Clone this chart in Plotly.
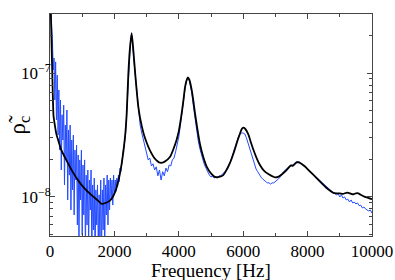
import plotly.graph_objects as go

# ---- data (values in units of 1e-8) ----
black_freq = [0, 30, 60, 85, 110, 150, 200, 250, 350, 500, 700, 900, 1100, 1300, 1500, 1600,
              1700, 1850, 1950, 2050, 2150, 2230, 2330, 2380, 2430, 2480, 2536, 2590, 2640,
              2690, 2740, 2800, 2900, 3000, 3100, 3250, 3420, 3550, 3730, 3850, 3930, 4000,
              4090, 4150, 4190, 4240, 4280, 4330, 4400, 4450, 4500, 4580, 4660, 4760, 4870,
              5000, 5120, 5250, 5380, 5500, 5590, 5700, 5800, 5900, 5960, 6000, 6060, 6160,
              6240, 6320, 6420, 6520, 6650, 6780, 6990, 7100, 7195, 7300, 7400, 7480, 7540,
              7600, 7660, 7720, 7780, 7870, 7970, 8100, 8280, 8450, 8590, 8700, 8800, 8900,
              9000, 9100, 9200, 9265, 9350, 9420, 9500, 9575, 9650, 9780, 9900, 10000]
black_val = [80, 28, 13, 7, 4.5, 3.8, 3.2, 2.9, 2.4, 2.0, 1.6, 1.33, 1.15, 1.03, 0.93, 0.88,
             0.89, 0.93, 1.0, 1.15, 1.45, 1.88, 3.05, 4.6, 9.5, 15.5, 21, 15, 10.3,
             7.3, 5.4, 4.3, 3.3, 2.75, 2.39, 2.05, 1.89, 1.92, 2.11, 2.5, 2.88, 3.4,
             4.75, 6.2, 7.6, 8.7, 9.2, 8.8, 7.3, 6.0, 4.8, 3.5, 2.65, 2.1, 1.75,
             1.55, 1.45, 1.45, 1.5, 1.68, 1.88, 2.25, 2.72, 3.25, 3.55, 3.62, 3.55, 3.2,
             2.75, 2.39, 2.05, 1.81, 1.62, 1.53, 1.44, 1.46, 1.52, 1.6, 1.71, 1.8, 1.78,
             1.84, 1.9, 1.9, 1.87, 1.8, 1.71, 1.58, 1.42, 1.28, 1.18, 1.12, 1.08, 1.07,
             1.07, 1.06, 1.08, 1.08, 1.06, 1.05, 1.07, 1.07, 1.04, 1.0, 0.98, 0.96]

blue_freq = (list(range(0, 2325, 25)) +
             [2350, 2400, 2450, 2500, 2530, 2560, 2600, 2650, 2700, 2750] +
             list(range(2800, 4050, 50)) +
             [4050, 4100, 4150, 4200, 4250, 4280, 4320, 4360, 4400, 4450] +
             list(range(4500, 8050, 50)) +
             list(range(8100, 8900, 100)) +
             list(range(8900, 10050, 50)))
blue_val = [35, 31, 24.4, 18.5, 10.6, 13.2, 6.05, 12.3, 4.18, 9.6, 3.16, 7.3, 2.39, 6.05, 1.65,
            4.6, 2.88, 5.5, 1.25, 3.8, 1.99, 5.03, 0.946, 3.47, 1.5, 3.8, 0.785, 2.88, 1.14,
            3.16, 0.716, 2.39, 1.37, 2.62, 0.594, 2.18, 0.45, 1.99, 0.946, 2.39, 0.494, 1.81,
            0.716, 1.99, 0.374, 1.5, 0.594, 1.65, 0.41, 1.37, 0.785, 1.65, 0.34, 1.25, 0.542,
            1.42, 0.31, 1.14, 0.594, 1.25, 0.374, 1.04, 0.45, 1.37, 0.34, 1.14, 0.542, 1.42,
            0.41, 1.25, 0.716, 1.5, 0.594, 1.37, 0.785, 1.42, 0.946, 1.37, 0.86, 1.5, 1.04,
            1.37, 1.11, 1.42, 1.22, 1.5, 1.33, 1.71, 1.6, 1.99, 2.06, 2.39, 2.53,
            # 2350 - 2750
            3.3, 6.0, 11.5, 18, 20.5, 18, 13, 9.5, 6.8, 4.85,
            # 2800 - 4000
            3.8, 3.28, 2.88, 2.48, 2.31, 1.99, 2.06, 1.78, 1.85, 1.65, 1.75, 1.48, 1.65,
            1.37, 1.6, 1.48, 1.71, 1.6, 1.81, 1.78, 1.99, 2.06, 2.31, 2.6, 3.05,
            # 4050 - 4450
            3.8, 4.75, 6.3, 7.7, 8.8, 9.1, 8.8, 8.0, 7.0, 5.5,
            # 4500 - 8000
            4.3, 3.47, 2.88, 2.48, 2.18, 1.99, 1.81, 1.68, 1.56, 1.5, 1.45, 1.48, 1.42,
            1.45, 1.42, 1.48, 1.48, 1.53, 1.56, 1.62, 1.71, 1.81, 1.92, 2.1, 2.31, 2.6,
            2.83, 3.05, 3.22, 3.28, 3.28, 3.22, 3.0, 2.72, 2.44, 2.18, 1.99, 1.81, 1.68,
            1.6, 1.5, 1.45, 1.4, 1.35, 1.33, 1.3, 1.3, 1.27, 1.3, 1.3, 1.33, 1.35, 1.4,
            1.45, 1.5, 1.6, 1.65, 1.68, 1.75, 1.78, 1.81, 1.81, 1.88, 1.92, 1.92, 1.92,
            1.85, 1.81, 1.75, 1.71, 1.68,
            # 8100 - 8800
            1.6, 1.5, 1.42, 1.33, 1.27, 1.2, 1.14, 1.08,
            # 8900 - 10000
            1.04, 1.06, 1.0, 1.04, 0.98, 1.0, 0.946, 0.96, 0.91, 0.946, 0.895, 0.91, 0.878,
            0.895, 0.85, 0.86, 0.815, 0.83, 0.8, 0.785, 0.77, 0.785, 0.74]

scale = 1e-8
x_ticks = [0, 2000, 4000, 6000, 8000, 10000]
x_labels = ["0", "2000", "4000", "6000", "8000", "10000"]
y_ticks = [1e-8, 1e-7]
y_labels = ["10<sup>−8</sup>", "10<sup>−7</sup>"]
x_title = "Frequency [Hz]"
y_title = "ρ̃<sub>c</sub>"

fig = go.Figure()
fig.add_trace(go.Scatter(x=blue_freq, y=[v * scale for v in blue_val], mode="lines",
                         line=dict(color="rgb(35,75,255)", width=1), showlegend=False))
fig.add_trace(go.Scatter(x=black_freq, y=[v * scale for v in black_val], mode="lines",
                         line=dict(color="black", width=1.8, shape="spline", smoothing=0.6),
                         showlegend=False))

font = "Liberation Serif"
fig.update_layout(
    width=395, height=280,
    margin=dict(l=50, r=23, t=14, b=44, autoexpand=False),
    paper_bgcolor="white", plot_bgcolor="white",
    font=dict(family=font, size=17, color="black"),
)
fig.update_xaxes(
    range=[0, 10000], tickvals=x_ticks, ticktext=x_labels, ticks="inside", ticklen=5,
    tickcolor="#444", automargin=False,
    showline=True, linecolor="#444", linewidth=1, mirror="ticks", showgrid=False, zeroline=False,
    minor=dict(dtick=1000, ticks="inside", ticklen=3, tickcolor="#444", showgrid=False),
    tickfont=dict(size=17, family=font),
)
fig.update_yaxes(
    type="log", range=[-8.315, -6.524], tickvals=y_ticks, ticktext=y_labels,
    ticks="inside", ticklen=5, tickcolor="#444", automargin=False, ticklabelstandoff=-5,
    showline=True, linecolor="#444", linewidth=1, mirror="ticks", showgrid=False, zeroline=False,
    minor=dict(dtick="D1", ticks="inside", ticklen=3, tickcolor="#444", showgrid=False),
    tickfont=dict(size=17, family=font),
)
fig.add_annotation(text=x_title, xref="paper", yref="paper", x=0.5, y=-0.1,
                   xanchor="center", yanchor="top", showarrow=False,
                   font=dict(size=19, family=font, color="black"))
fig.add_annotation(text=y_title, xref="paper", yref="paper", x=-0.095, y=0.5,
                   xanchor="center", yanchor="middle", textangle=-90, showarrow=False,
                   font=dict(size=23, family=font, color="black"))
fig.write_html("out.html", config={"displayModeBar": False},
               post_script="document.body.style.margin='0px';document.body.style.overflow='hidden';")
